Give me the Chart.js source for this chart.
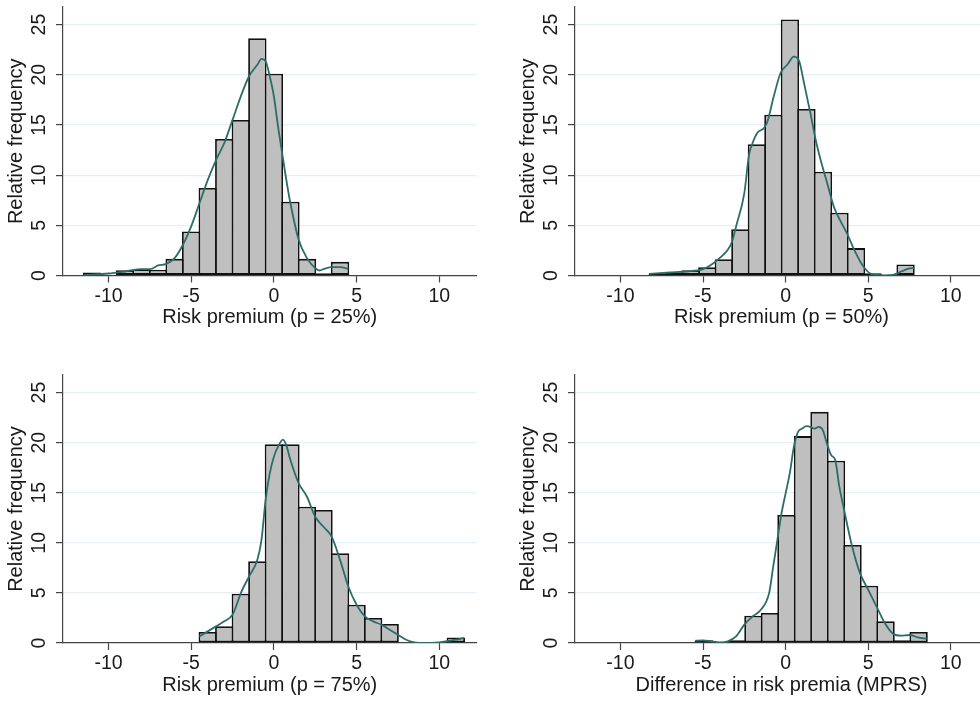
<!DOCTYPE html>
<html>
<head>
<meta charset="utf-8">
<script src="https://cdn.jsdelivr.net/npm/chart.js@4.4.1/dist/chart.umd.min.js"></script>
<style>
  html, body { margin: 0; padding: 0; background: #fff; overflow: hidden; width: 980px; height: 702px; position: relative; }
  canvas { position: absolute; }
</style>
</head>
<body>
<canvas id="c25" width="490" height="340" style="left:0px;top:0px"></canvas>
<canvas id="c50" width="510" height="340" style="left:490px;top:0px"></canvas>
<canvas id="c75" width="490" height="362" style="left:0px;top:340px"></canvas>
<canvas id="cMprs" width="510" height="362" style="left:490px;top:340px"></canvas>
<script>
// axis ticks
const xTicks = [-10, -5, 0, 5, 10];
const yTicks = [0, 5, 10, 15, 20, 25];

// histogram bins (width 1), null = empty bin
const binWidth = 1.0;

const p25Start = -11.5;
const p25Freq = [0.3, null, 0.53, 0.6, 0.57, 1.66, 4.39, 8.71, 13.6, 15.5, 23.64, 20.11, 7.35, 1.66, 0.23, 1.36];
const p25KdeX = [-11.5, -10, -9, -8, -7.5, -7, -6.5, -6, -5.5, -5, -4.5, -4, -3.5, -3, -2.5, -2, -1.5, -1, -0.75, -0.5, -0.25, 0, 0.25, 0.5, 0.75, 1, 1.5, 2, 2.5, 2.75, 3, 3.5, 4, 4.5];
const p25KdeY = [0.03, 0.2, 0.4, 0.63, 0.63, 1.0, 1.16, 1.73, 3.06, 4.9, 7.2, 9.5, 11.5, 13.2, 15.5, 17.85, 19.85, 21.0, 21.58, 21.35, 19.85, 17.85, 14.86, 12.2, 9.54, 7.2, 3.56, 1.73, 0.73, 0.5, 0.63, 0.83, 0.83, 0.66];

const p50Start = -8.24;
const p50Freq = [0.23, 0.3, 0.53, 0.83, 1.63, 4.62, 13.07, 16.02, 25.5, 16.59, 10.34, 6.25, 2.73, 0.23, null, 1.1];
const p50KdeX = [-8.24, -7, -6, -5, -4.5, -4, -3.5, -3.24, -3, -2.5, -2.22, -2, -1.72, -1.31, -1.11, -0.71, -0.3, 0.1, 0.5, 0.81, 1.11, 1.52, 1.82, 2.12, 2.5, 2.93, 3.33, 3.74, 4.14, 4.55, 4.85, 5.15, 5.5, 6, 6.5, 7, 7.5, 7.78];
const p50KdeY = [0.17, 0.3, 0.4, 0.63, 1.06, 1.73, 2.56, 3.39, 4.89, 8.2, 12.0, 13.2, 14.2, 14.7, 15.3, 17.9, 20.2, 21.0, 21.8, 21.4, 19.2, 16.0, 13.5, 11.5, 9.3, 6.8, 5.4, 4.1, 2.6, 1.3, 0.6, 0.17, 0.05, 0, 0.05, 0.4, 0.7, 0.73];

const p75Start = -4.5;
const p75Freq = [1.1, 1.66, 4.91, 8.17, 19.85, 19.85, 13.6, 13.28, 8.96, 3.82, 2.49, 1.89, null, null, null, 0.56];
const p75KdeX = [-4.5, -4, -3.5, -3, -2.5, -2.25, -2, -1.5, -1, -0.75, -0.5, -0.25, 0, 0.25, 0.55, 0.75, 1, 1.5, 2, 2.5, 3, 3.5, 4, 4.5, 5, 5.5, 6, 6.5, 7, 7.5, 8, 8.5, 9, 10, 11, 11.5];
const p75KdeY = [0.66, 1.16, 1.66, 2.16, 2.82, 3.82, 4.98, 6.64, 8.3, 10.3, 14.28, 16.93, 18.6, 19.6, 20.3, 19.75, 18.26, 15.94, 14.6, 12.6, 11.6, 10.6, 8.3, 5.64, 3.82, 2.66, 2.16, 1.83, 1.33, 0.83, 0.33, 0.07, 0, 0.07, 0.33, 0.5];

const mprsStart = -5.45;
const mprsFreq = [0.27, null, 0.27, 2.72, 2.99, 12.78, 20.65, 23.07, 18.19, 9.79, 5.71, 2.16, 0.27, 1.1];
const mprsKdeX = [-5.45, -5, -4.5, -4, -3.5, -3, -2.5, -2, -1.5, -1, -0.75, -0.5, -0.25, 0, 0.25, 0.5, 0.75, 1, 1.25, 1.5, 1.75, 2, 2.25, 2.5, 2.75, 3, 3.25, 3.5, 4, 4.5, 5, 5.5, 6, 6.5, 7, 7.5, 8, 8.55];
const mprsKdeY = [0.23, 0.27, 0.17, 0.07, 0.17, 0.66, 1.83, 2.66, 3.32, 4.98, 7.64, 10.3, 12.95, 14.94, 16.93, 19.6, 21.08, 21.4, 21.64, 21.57, 21.4, 21.57, 21.25, 19.9, 18.76, 18.26, 15.6, 13.6, 9.8, 6.97, 5.31, 3.65, 1.99, 0.93, 0.73, 0.8, 0.56, 0.43];

const fontFamily = "'Liberation Sans', Arial, Helvetica, sans-serif";
const textColor = "#1a1a1a";
const axisColor = "#444";
const Y_AXIS_W = 63;
const X_AXIS_H = 54;

const panels = [
  { id: "c25", title: "Risk premium (p = 25%)", start: p25Start, freq: p25Freq, kx: p25KdeX, ky: p25KdeY,
    pad: { left: 0, top: 7, right: 13.5, bottom: 10.5 } },
  { id: "c50", title: "Risk premium (p = 50%)", start: p50Start, freq: p50Freq, kx: p50KdeX, ky: p50KdeY,
    pad: { left: 22, top: 7, right: 12, bottom: 10.5 } },
  { id: "c75", title: "Risk premium (p = 75%)", start: p75Start, freq: p75Freq, kx: p75KdeX, ky: p75KdeY,
    pad: { left: 0, top: 35, right: 13.5, bottom: 5 } },
  { id: "cMprs", title: "Difference in risk premia (MPRS)", start: mprsStart, freq: mprsFreq, kx: mprsKdeX, ky: mprsKdeY,
    pad: { left: 22, top: 35, right: 12, bottom: 5 } },
];

const makeChart = (p) => {
  const bars = p.freq.map((v, i) => ({ x: p.start + (i + 0.5) * binWidth, y: v }));
  const kde = p.kx.map((v, i) => ({ x: v, y: p.ky[i] }));

  return new Chart(document.getElementById(p.id), {
    type: "bar",
    data: {
      datasets: [
        {
          type: "line",
          data: kde,
          borderColor: "#2c6d67",
          borderWidth: 1.8,
          pointRadius: 0,
          cubicInterpolationMode: "monotone",
          fill: false,
          order: 0,
        },
        {
          type: "bar",
          data: bars,
          backgroundColor: "#bfbfbf",
          borderColor: "#111",
          borderWidth: 1.8,
          borderSkipped: false,
          barPercentage: 1.11,
          categoryPercentage: 1,
          order: 1,
        },
      ],
    },
    options: {
      responsive: false,
      animation: false,
      devicePixelRatio: 1,
      events: [],
      layout: { padding: p.pad },
      plugins: { legend: { display: false }, tooltip: { enabled: false } },
      scales: {
        x: {
          type: "linear",
          position: "bottom",
          min: -12.75,
          max: 12.25,
          offset: false,
          afterBuildTicks: (s) => { s.ticks = xTicks.map((v) => ({ value: v })); },
          afterFit: (s) => { s.height = X_AXIS_H; s.paddingLeft = 0; s.paddingRight = 0; },
          ticks: { font: { family: fontFamily, size: 19.5 }, color: textColor, padding: 2, maxRotation: 0 },
          grid: { offset: false, drawOnChartArea: false, drawTicks: true, tickLength: 7, tickColor: axisColor, tickWidth: 1.2 },
          border: { display: true, color: axisColor, width: 1.2 },
          title: { display: true, text: p.title, font: { family: fontFamily, size: 20 }, color: textColor, padding: { top: 0, bottom: 0 } },
        },
        y: {
          type: "linear",
          min: 0,
          max: 26.75,
          afterBuildTicks: (s) => { s.ticks = yTicks.map((v) => ({ value: v })); },
          afterFit: (s) => { s.width = Y_AXIS_W; s.paddingTop = 0; s.paddingBottom = 0; },
          ticks: { font: { family: fontFamily, size: 19.5 }, color: textColor, padding: 6, minRotation: 90, maxRotation: 90, crossAlign: "center" },
          grid: {
            color: (ctx) => (ctx.tick && ctx.tick.value === 0 ? "rgba(0,0,0,0)" : "#e6eff1"),
            lineWidth: 1.2,
            drawTicks: true,
            tickLength: 7,
            tickColor: axisColor,
            tickWidth: 1.2,
          },
          border: { display: true, color: axisColor, width: 1.2 },
          title: { display: true, text: "Relative frequency", font: { family: fontFamily, size: 20 }, color: textColor, padding: { top: 4.5, bottom: 0 } },
        },
      },
    },
  });
};

panels.forEach(makeChart);
</script>
</body>
</html>
